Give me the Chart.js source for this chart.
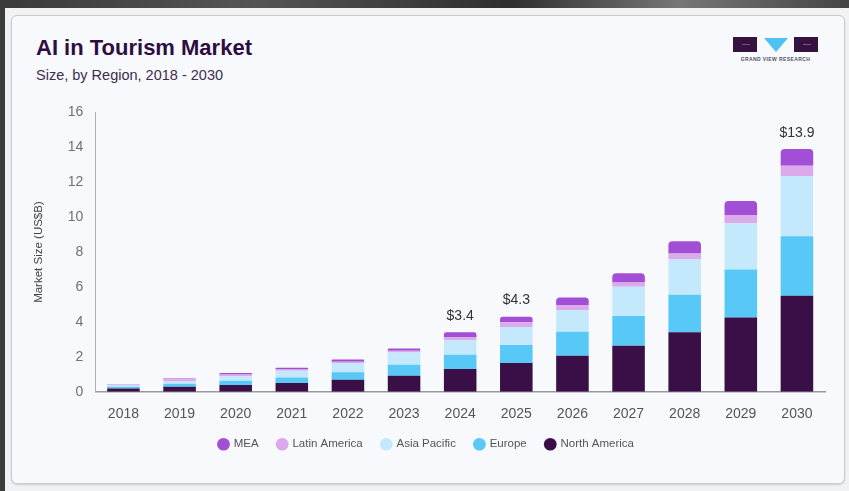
<!DOCTYPE html>
<html>
<head>
<meta charset="utf-8">
<title>AI in Tourism Market</title>
<script src="https://cdn.jsdelivr.net/npm/chart.js@4/dist/chart.umd.min.js"></script>
<style>
    html, body { margin: 0; padding: 0; }
    body {
        width: 849px; height: 491px; overflow: hidden;
        background: #f1f2f4; position: relative;
        font-family: "Liberation Sans", Arial, sans-serif;
    }
    .topbar { position: absolute; left: 0; top: 0; width: 849px; height: 8px;
              background: linear-gradient(90deg, #3a3a3a, #555 30%, #2e2e2e 60%, #777 80%, #444); }
    .leftbar { position: absolute; left: 0; top: 0; width: 5px; height: 491px; background: #3c3c3c; }
    .card {
        position: absolute; left: 11px; top: 15px; width: 832px; height: 467px;
        background: #f7f9fc; border: 1px solid #c9ccd2; border-radius: 6px;
        box-shadow: 0 1px 2px rgba(0,0,0,.15);
    }
    .title { position: absolute; left: 24px; top: 19px; font-size: 22px; font-weight: bold;
             color: #2d0e42; letter-spacing: 0; }
    .subtitle { position: absolute; left: 24px; top: 51px; font-size: 14.5px; color: #3f2d4c; }
    .logo { position: absolute; left: 721px; top: 21px; width: 85px; height: 30px; }
    .logo .sq { position: absolute; top: 0; width: 24px; height: 15px; background: #35123f; }
    .logo .sq i { position: absolute; left: 9px; top: 7px; width: 8px; height: 1px; background: #6a5a78; }
    .logo .tri { position: absolute; left: 31px; top: 1px; width: 0; height: 0;
                 border-left: 12px solid transparent; border-right: 12px solid transparent;
                 border-top: 14px solid #4cc3f1; }
    .logo .txt { position: absolute; left: 0; top: 19px; width: 85px; text-align: center;
                 font-size: 5px; font-weight: bold; color: #55506a; letter-spacing: 0.4px; }
    #wrap { position: absolute; left: 26px; top: 92px; width: 811px; height: 376px; }
</style>
</head>
<body>
<div class="topbar"></div>
<div class="leftbar"></div>
<div class="card">
    <div class="title">AI in Tourism Market</div>
    <div class="subtitle">Size, by Region, 2018 - 2030</div>
    <div class="logo">
        <div class="sq" style="left:0"><i></i></div>
        <div class="tri"></div>
        <div class="sq" style="left:61px"><i></i></div>
        <div class="txt">GRAND VIEW RESEARCH</div>
    </div>
</div>
<div id="wrap"><canvas id="chart"></canvas></div>

<script>
// ─── data ───────────────────────────────────────────────
var years        = ['2018','2019','2020','2021','2022','2023','2024','2025','2026','2027','2028','2029','2030'];
var northAmerica = [0.19, 0.28, 0.38, 0.50, 0.69, 0.92, 1.30, 1.64, 2.06, 2.63, 3.40, 4.25, 5.50];
var europe       = [0.10, 0.18, 0.25, 0.32, 0.42, 0.62, 0.81, 1.03, 1.37, 1.70, 2.15, 2.75, 3.40];
var asiaPacific  = [0.10, 0.13, 0.25, 0.38, 0.53, 0.70, 0.84, 1.04, 1.24, 1.68, 2.05, 2.65, 3.45];
var latinAmerica = [0.02, 0.13, 0.10, 0.07, 0.08, 0.10, 0.19, 0.27, 0.30, 0.25, 0.32, 0.47, 0.60];
var mea          = [0.02, 0.03, 0.09, 0.10, 0.12, 0.13, 0.26, 0.32, 0.42, 0.53, 0.70, 0.80, 0.95];
// labels shown above some bars (null = no label)
var totalLabels  = [null, null, null, null, null, null, '$3.4', '$4.3', null, null, null, null, '$13.9'];
var yTicks       = [0, 2, 4, 6, 8, 10, 12, 14, 16];

var FONT = '"Liberation Sans", Arial, sans-serif';

// ─── top-of-bar labels ──────────────────────────────────
var totalsPlugin = {
    id: 'totals',
    afterDatasetsDraw: function (chart) {
        var c = chart.ctx;
        var last = chart.getDatasetMeta(chart.data.datasets.length - 1);
        c.save();
        c.font = '14px ' + FONT;
        c.fillStyle = '#333';
        c.textAlign = 'center';
        c.textBaseline = 'bottom';
        totalLabels.forEach(function (t, i) {
            if (!t) return;
            var bar = last.data[i];
            c.fillText(t, bar.x, bar.y - 9);
        });
        c.restore();
    }
};

function ds(label, data, color, top) {
    return {
        label: label,
        data: data,
        backgroundColor: color,
        borderWidth: 0,
        borderRadius: top ? { topLeft: 4, topRight: 4 } : 0,
        borderSkipped: false,
        barPercentage: 0.58,
        categoryPercentage: 1.0
    };
}

new Chart(document.getElementById('chart'), {
    type: 'bar',
    data: {
        labels: years,
        datasets: [
            ds('North America', northAmerica, '#3a0f47'),
            ds('Europe',        europe,       '#58c8f6'),
            ds('Asia Pacific',  asiaPacific,  '#c5e9fc'),
            ds('Latin America', latinAmerica, '#dcaaeb'),
            ds('MEA',           mea,          '#a24ed6', true)
        ]
    },
    options: {
        responsive: true,
        maintainAspectRatio: false,
        animation: false,
        layout: { padding: { left: 2, right: 12, top: 11, bottom: 8 } },
        plugins: {
            legend: {
                position: 'bottom',
                reverse: true,
                labels: {
                    usePointStyle: true, pointStyle: 'circle',
                    boxWidth: 9, boxHeight: 9, padding: 19,
                    color: '#555', font: { size: 11.5, family: FONT }
                }
            },
            tooltip: { enabled: false }
        },
        scales: {
            x: {
                stacked: true,
                grid: { display: false },
                border: { color: '#9a9a9a', width: 1.5 },
                ticks: { color: '#555', font: { size: 14, family: FONT }, padding: 6 },
                // pull legend closer to the tick labels
                afterFit: function (axis) { axis.height -= 9; }
            },
            y: {
                stacked: true,
                min: 0, max: 16,
                afterBuildTicks: function (axis) {
                    axis.ticks = yTicks.map(function (v) { return { value: v }; });
                },
                grid: { display: false, drawTicks: false },
                border: { color: '#b0b0b0', width: 1 },
                ticks: { color: '#707070', font: { size: 14, family: FONT }, padding: 12 },
                title: {
                    display: true, text: 'Market Size (US$B)', color: '#444',
                    font: { size: 11.5, family: FONT }, padding: { bottom: 10 }
                }
            }
        }
    },
    plugins: [totalsPlugin]
});
</script>
</body>
</html>
